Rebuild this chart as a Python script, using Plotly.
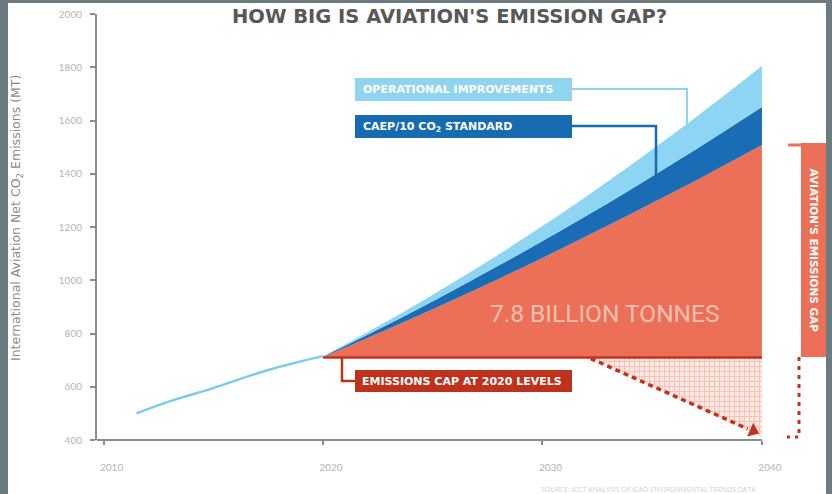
import plotly.graph_objects as go

# ---------------- data ----------------
years_pre = [2011.5, 2013, 2015, 2017.5, 2020]
bau_pre = [500, 545, 595, 663, 715]

years = [2020, 2022, 2024, 2026, 2028, 2030, 2032, 2034, 2036, 2038, 2040]
bau = [715, 804, 897, 995, 1097, 1204, 1315, 1431, 1551, 1676, 1805]      # business as usual (top of light blue)
caep = [713, 794, 878, 965, 1055, 1147, 1242, 1340, 1441, 1545, 1651]     # after CAEP/10 CO2 standard
ops = [711, 782, 854, 929, 1005, 1084, 1165, 1248, 1332, 1419, 1508]      # after operational improvements
cap_level = 710

gap_years = [2032.2, 2040, 2040]
gap_values = [710, 710, 411]
arrow_years = [2032.2, 2039.35]
arrow_values = [706, 442]
arrow_tip_year = [2039.6]
arrow_tip_value = [434]

x_ticks = [2010, 2020, 2030, 2040]
y_ticks = [400, 600, 800, 1000, 1200, 1400, 1600, 1800, 2000]

# ---------------- geometry helpers ----------------
W, H = 832, 494
L_PX, R_PX, T_PX, B_PX = 97, 826, 14, 440
X_RANGE = [2009.70, 2042.92]
Y_RANGE = [400, 2000]


def px2x(px):
    return X_RANGE[0] + (px - L_PX) / (R_PX - L_PX) * (X_RANGE[1] - X_RANGE[0])


def py2y(py):
    return Y_RANGE[0] + (B_PX - py) / (B_PX - T_PX) * (Y_RANGE[1] - Y_RANGE[0])


def ppx(px):
    return (px - L_PX) / (R_PX - L_PX)


def ppy(py):
    return (B_PX - py) / (B_PX - T_PX)


def x2paper(v):
    return (v - X_RANGE[0]) / (X_RANGE[1] - X_RANGE[0])


LIGHT = "#8dd5f3"
DARK = "#1a6db4"
CORAL = "#ec6f57"
DRED = "#c3321f"
AXIS = "#8c8c8c"
BORDER = "#6a7c81"

fig = go.Figure()

# pre-2020 history
fig.add_trace(go.Scatter(x=years_pre, y=bau_pre, mode="lines",
                         line=dict(color="#7ccbec", width=2.5, shape="spline"),
                         hoverinfo="skip", showlegend=False))
# cap baseline
fig.add_trace(go.Scatter(x=years, y=[cap_level] * len(years), mode="lines",
                         line=dict(color=DRED, width=0), hoverinfo="skip", showlegend=False))
fig.add_trace(go.Scatter(x=years, y=ops, mode="lines", fill="tonexty", fillcolor=CORAL,
                         line=dict(color=CORAL, width=0, shape="spline"),
                         hoverinfo="skip", showlegend=False))
fig.add_trace(go.Scatter(x=years, y=caep, mode="lines", fill="tonexty", fillcolor=DARK,
                         line=dict(color=DARK, width=0, shape="spline"),
                         hoverinfo="skip", showlegend=False))
fig.add_trace(go.Scatter(x=years, y=bau, mode="lines", fill="tonexty", fillcolor=LIGHT,
                         line=dict(color=LIGHT, width=0, shape="spline"),
                         hoverinfo="skip", showlegend=False))
# hatched gap area
fig.add_trace(go.Scatter(x=gap_years, y=gap_values, mode="lines", fill="toself",
                         fillcolor="#fde6e0",
                         fillpattern=dict(shape="+", fgcolor="#ec8d7a", bgcolor="#fde8e2",
                                          size=5, solidity=0.3),
                         line=dict(width=0), hoverinfo="skip", showlegend=False))
# cap line
fig.add_trace(go.Scatter(x=[years[0], years[-1]], y=[cap_level, cap_level], mode="lines",
                         line=dict(color=DRED, width=2.5), hoverinfo="skip", showlegend=False))
# dashed reduction arrow
fig.add_trace(go.Scatter(x=arrow_years, y=arrow_values, mode="lines",
                         line=dict(color=DRED, width=3.5, dash="5px,4px"),
                         hoverinfo="skip", showlegend=False))
fig.add_trace(go.Scatter(x=arrow_tip_year, y=arrow_tip_value, mode="markers",
                         marker=dict(symbol="triangle-right", size=13, color=DRED, angle=24),
                         hoverinfo="skip", showlegend=False))

shapes = []
# grey frame
shapes.append(dict(type="rect", xref="paper", yref="paper", x0=ppx(0), x1=ppx(8), y0=ppy(H), y1=ppy(0),
                   fillcolor=BORDER, line=dict(width=0), layer="above"))
shapes.append(dict(type="rect", xref="paper", yref="paper", x0=ppx(R_PX), x1=ppx(W), y0=ppy(H), y1=ppy(0),
                   fillcolor=BORDER, line=dict(width=0), layer="above"))
shapes.append(dict(type="rect", xref="paper", yref="paper", x0=ppx(0), x1=ppx(W), y0=ppy(3), y1=ppy(0),
                   fillcolor=BORDER, line=dict(width=0), layer="above"))
# x axis line
shapes.append(dict(type="line", xref="paper", yref="paper", x0=0, x1=x2paper(2040), y0=0, y1=0,
                   line=dict(color=AXIS, width=2)))


# label boxes
def box(x0, x1, y0, y1, color):
    return dict(type="rect", xref="x", yref="y", x0=px2x(x0), x1=px2x(x1), y0=py2y(y1), y1=py2y(y0),
                fillcolor=color, line=dict(width=0), layer="above")


def seg(pts, color, width=2, dash="solid"):
    path = "M " + " L ".join(f"{px2x(a)},{py2y(b)}" for a, b in pts)
    return dict(type="path", xref="x", yref="y", path=path,
                line=dict(color=color, width=width, dash=dash), layer="above")


shapes.append(box(355, 572, 78, 101, "#8fd4f1"))
shapes.append(box(355, 572, 115, 138, "#176bb0"))
shapes.append(box(355, 572, 370, 392, "#c0311c"))
shapes.append(seg([(572, 89), (687, 89), (687, 133)], "#8fd4f1", 2))
shapes.append(seg([(572, 126), (656, 126), (656, 183)], "#176bb0", 2.5))
shapes.append(seg([(342, 358), (342, 381), (355, 381)], "#c0311c", 2.5))
# right side bracket
shapes.append(box(801, R_PX, 143, 357, CORAL))
shapes.append(seg([(788, 145), (801, 145)], CORAL, 3))
shapes.append(seg([(799, 357), (799, 437)], DRED, 3, "4px,5px"))
shapes.append(seg([(787, 437), (799, 437)], DRED, 3, "3px,5px"))

annotations = []
annotations.append(dict(xref="paper", yref="paper", x=ppx(449), y=ppy(17),
                        text="<b>HOW BIG IS AVIATION'S EMISSION GAP?</b>",
                        showarrow=False, font=dict(family="DejaVu Sans", size=19.5, color="#585858"),
                        xanchor="center", yanchor="middle"))
annotations.append(dict(xref="paper", yref="paper", x=ppx(16), y=ppy(218),
                        text="International Aviation Net CO<sub>2</sub> Emissions (MT)",
                        textangle=-90, showarrow=False,
                        font=dict(family="DejaVu Sans", size=12.5, color="#8a8a8a"),
                        xanchor="center", yanchor="middle"))
lab_font = dict(family="DejaVu Sans", size=11, color="white")
annotations.append(dict(x=px2x(361), y=py2y(89.5), text="<b>OPERATIONAL IMPROVEMENTS</b>", showarrow=False,
                        font=lab_font, xanchor="left", yanchor="middle"))
annotations.append(dict(x=px2x(361), y=py2y(126.5), text="<b>CAEP/10 CO<sub>2</sub> STANDARD</b>", showarrow=False,
                        font=lab_font, xanchor="left", yanchor="middle"))
annotations.append(dict(x=px2x(360), y=py2y(381), text="<b>EMISSIONS CAP AT 2020 LEVELS</b>", showarrow=False,
                        font=lab_font, xanchor="left", yanchor="middle"))
annotations.append(dict(x=px2x(605), y=py2y(313), text="7.8 BILLION TONNES", showarrow=False,
                        font=dict(family="Roboto", size=24.5, color="#f8c0b1"),
                        xanchor="center", yanchor="middle"))
annotations.append(dict(x=px2x(813.5), y=py2y(250), text="<b>AVIATION'S EMISSIONS GAP</b>", showarrow=False,
                        textangle=90, font=dict(family="DejaVu Sans", size=10.5, color="white"),
                        xanchor="center", yanchor="middle"))
annotations.append(dict(xref="paper", yref="paper", x=ppx(648), y=ppy(490),
                        text="SOURCE: ICCT ANALYSIS OF ICAO ENVIRONMENTAL TRENDS DATA", showarrow=False,
                        font=dict(family="Open Sans", size=7, color="#cfcfcf"),
                        xanchor="center", yanchor="middle"))

fig.update_layout(
    width=W, height=H,
    margin=dict(l=L_PX, r=W - R_PX, t=T_PX, b=H - B_PX, pad=0),
    paper_bgcolor="white", plot_bgcolor="white",
    shapes=shapes, annotations=annotations,
    showlegend=False,
    xaxis=dict(range=X_RANGE, tickvals=x_ticks, ticktext=[str(t) for t in x_ticks],
               showline=False, showgrid=False, zeroline=False,
               ticks="outside", ticklen=4, tickwidth=1.5, tickcolor=AXIS,
               ticklabelshift=8, ticklabelstandoff=14,
               tickfont=dict(family="Lato", size=10, color="#b5b5b5")),
    yaxis=dict(range=Y_RANGE, tickvals=y_ticks, showline=True, linecolor=AXIS, linewidth=2,
               showgrid=False, zeroline=False, ticks="outside", ticklen=5, tickwidth=1.5,
               tickcolor=AXIS, ticklabelstandoff=6,
               tickfont=dict(family="Lato", size=10, color="#b5b5b5")),
)

fig.write_html("out.html")
